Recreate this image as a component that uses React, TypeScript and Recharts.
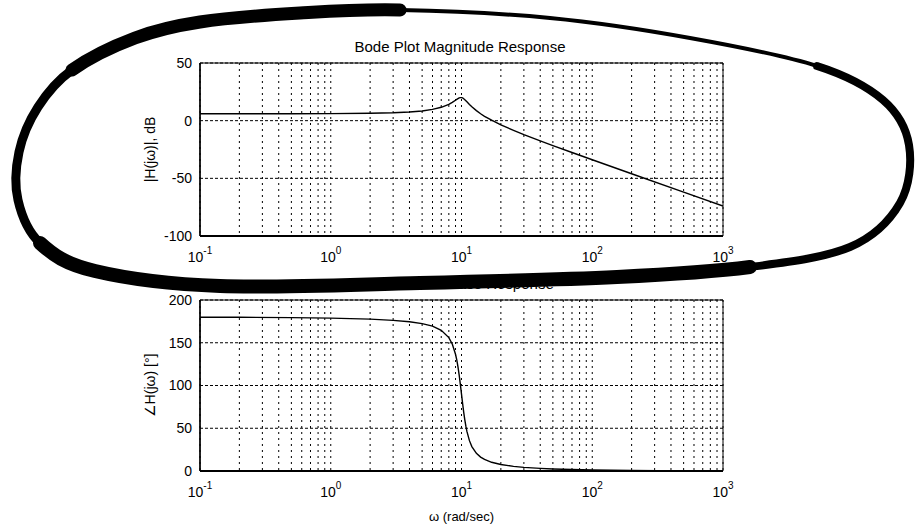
import React from 'react';
import { LineChart, Line, XAxis, YAxis, CartesianGrid, ReferenceArea, Label } from 'recharts';

// frequencies (rad/sec) read along the log axis
const freq = [0.1, 0.2, 0.5, 1, 2, 3, 4, 5, 6, 7, 8, 8.5, 9, 9.2, 9.4, 9.6, 9.8, 10, 10.2, 10.4, 10.6, 10.8, 11, 11.5, 12, 13, 14, 15, 17, 20, 25, 30, 40, 50, 70, 100, 200, 500, 1000];

// |H(jw)| in dB
const magnitudeDb = [6.0, 6.0, 6.0, 6.1, 6.4, 6.8, 7.5, 8.4, 9.8, 11.6, 14.1, 15.8, 17.7, 18.4, 19.1, 19.7, 20.0, 20.0, 19.7, 19.0, 18.2, 17.3, 16.4, 14.1, 12.0, 8.7, 6.0, 3.8, 0.4, -3.6, -8.4, -12.1, -17.5, -21.6, -27.6, -33.9, -46.0, -62.0, -74.0];

// angle H(jw) in degrees
const phaseDeg = [179.9, 179.8, 179.4, 178.8, 177.6, 176.2, 174.6, 172.4, 169.4, 164.6, 156.0, 148.5, 136.5, 129.9, 121.8, 112.2, 101.4, 90.0, 78.8, 68.6, 59.8, 52.4, 46.3, 35.5, 28.6, 20.6, 16.3, 13.5, 10.2, 7.6, 5.4, 4.3, 3.1, 2.4, 1.7, 1.2, 0.6, 0.2, 0.1];

const decadeTicks = [0.1, 1, 10, 100, 1000];
const decadeExponents = ['-1', '0', '1', '2', '3'];
const gridTicks = [
  0.1, 0.2, 0.3, 0.4, 0.5, 0.6, 0.7, 0.8, 0.9,
  1, 2, 3, 4, 5, 6, 7, 8, 9,
  10, 20, 30, 40, 50, 60, 70, 80, 90,
  100, 200, 300, 400, 500, 600, 700, 800, 900,
  1000,
];
const magTicks = [-100, -50, 0, 50];
const phaseTicks = [0, 50, 100, 150, 200];

const data = freq.map((w, i) => ({ w, mag: magnitudeDb[i], phase: phaseDeg[i] }));

const FONT = '"Liberation Sans", Arial, Helvetica, sans-serif';

function DecadeTick({ x, y, payload }: any) {
  const i = decadeTicks.indexOf(payload.value);
  if (i < 0) return <g />;
  return (
    <text x={x} y={y + 18} textAnchor="middle" fontSize={14} fill="#000" fontFamily={FONT}>
      10
      <tspan dy={-8} fontSize={10}>{decadeExponents[i]}</tspan>
    </text>
  );
}

// hand-drawn loop around the upper plot (scan annotation)
const loop = [
  [40, 243], [18, 200], [19, 152], [38, 107], [72, 70], [135, 38], [200, 22], [300, 13],
  [400, 10], [550, 18], [690, 38], [817, 66], [883, 100], [909, 145], [900, 203], [850, 247],
  [750, 267], [617, 277], [420, 283], [220, 286], [95, 271],
];
const loopParts = [
  { from: 0, to: 4, width: 9 },
  { from: 4, to: 8, width: 13 },
  { from: 8, to: 11, width: 4 },
  { from: 11, to: 16, width: 8 },
  { from: 16, to: 21, width: 14 },
];

function loopPath(from: number, to: number) {
  const n = loop.length;
  const p = (k: number) => loop[((k % n) + n) % n];
  let d = `M${p(from)[0]},${p(from)[1]}`;
  for (let i = from; i < to; i++) {
    const p0 = p(i - 1), p1 = p(i), p2 = p(i + 1), p3 = p(i + 2);
    const c1x = p1[0] + (p2[0] - p0[0]) / 6;
    const c1y = p1[1] + (p2[1] - p0[1]) / 6;
    const c2x = p2[0] - (p3[0] - p1[0]) / 6;
    const c2y = p2[1] - (p3[1] - p1[1]) / 6;
    d += ` C${c1x},${c1y} ${c2x},${c2y} ${p2[0]},${p2[1]}`;
  }
  return d;
}

export default function App() {
  return (
    <div style={{ position: 'absolute', left: 0, top: 0, width: 915, height: 525, background: '#fff', fontFamily: FONT }}>
      <div style={{ position: 'absolute', left: 0, top: 0 }}>
        <LineChart width={915} height={270} data={data} margin={{ top: 63, right: 192, bottom: 4, left: 140 }}>
          <CartesianGrid horizontal={false} stroke="#000" strokeDasharray="2 4" />
          <CartesianGrid vertical={false} stroke="#000" strokeDasharray="3 2" />
          <XAxis
            dataKey="w"
            type="number"
            scale="log"
            domain={[0.1, 1000]}
            allowDataOverflow
            ticks={gridTicks}
            interval={0}
            tick={<DecadeTick />}
            tickLine={false}
            axisLine={{ stroke: '#000', strokeWidth: 2 }}
            height={30}
          />
          <YAxis
            type="number"
            domain={[-100, 50]}
            ticks={magTicks}
            interval={0}
            width={60}
            tickLine={false}
            axisLine={{ stroke: '#000', strokeWidth: 1.5 }}
            tick={{ fill: '#000', fontSize: 14, fontFamily: FONT }}
          >
            <Label value="|H(jω)|, dB" angle={-90} position="insideLeft" offset={10} style={{ textAnchor: 'middle', fontSize: 14, fill: '#000', fontFamily: FONT }} />
          </YAxis>
          <ReferenceArea x1={0.1} x2={1000} y1={-100} y2={50} fill="none" fillOpacity={0} stroke="#000" strokeWidth={1} />
          <Line type="linear" dataKey="mag" stroke="#000" strokeWidth={1.4} dot={false} isAnimationActive={false} />
        </LineChart>
      </div>
      <div style={{ position: 'absolute', left: 0, top: 270 }}>
        <LineChart width={915} height={255} data={data} margin={{ top: 30, right: 192, bottom: 4, left: 140 }}>
          <CartesianGrid horizontal={false} stroke="#000" strokeDasharray="2 4" />
          <CartesianGrid vertical={false} stroke="#000" strokeDasharray="3 2" />
          <XAxis
            dataKey="w"
            type="number"
            scale="log"
            domain={[0.1, 1000]}
            allowDataOverflow
            ticks={gridTicks}
            interval={0}
            tick={<DecadeTick />}
            tickLine={false}
            axisLine={{ stroke: '#000', strokeWidth: 2 }}
            height={50}
          >
            <Label value="ω (rad/sec)" position="insideBottom" offset={0} style={{ fontSize: 13, fill: '#000', fontFamily: FONT }} />
          </XAxis>
          <YAxis
            type="number"
            domain={[0, 200]}
            ticks={phaseTicks}
            interval={0}
            width={60}
            tickLine={false}
            axisLine={{ stroke: '#000', strokeWidth: 1.5 }}
            tick={{ fill: '#000', fontSize: 14, fontFamily: FONT }}
          >
            <Label value="∠H(jω) [°]" angle={-90} position="insideLeft" offset={10} style={{ textAnchor: 'middle', fontSize: 14, fill: '#000', fontFamily: FONT }} />
          </YAxis>
          <ReferenceArea x1={0.1} x2={1000} y1={0} y2={200} fill="none" fillOpacity={0} stroke="#000" strokeWidth={1} />
          <Line type="linear" dataKey="phase" stroke="#000" strokeWidth={1.4} dot={false} isAnimationActive={false} />
        </LineChart>
      </div>
      <svg width={915} height={525} style={{ position: 'absolute', left: 0, top: 0, pointerEvents: 'none' }}>
        <text x={460} y={52} textAnchor="middle" fontSize={15} fill="#000" fontFamily={FONT}>Bode Plot Magnitude Response</text>
        <text x={462} y={289} textAnchor="middle" fontSize={15} fill="#000" fontFamily={FONT}>Bode Plot Phase Response</text>
        {loopParts.map((s, i) => (
          <path key={i} d={loopPath(s.from, s.to)} fill="none" stroke="#000" strokeWidth={s.width} strokeLinecap="round" />
        ))}
      </svg>
    </div>
  );
}
